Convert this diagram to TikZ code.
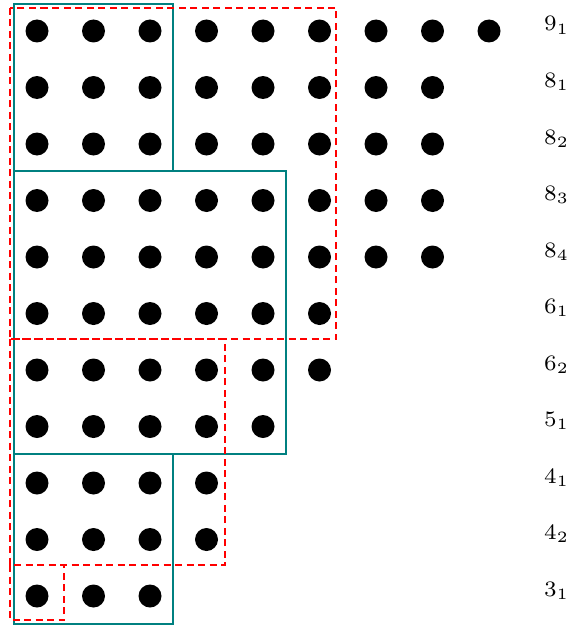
\documentclass[tikz,border=0pt]{standalone}
\usepackage{graphicx}
\usepackage{tikz}
\tikzset{
  dot/.style={circle,fill=black,draw=none,minimum size=23pt,inner sep=0pt},
  rowlab/.style={anchor=base west,inner sep=0pt},
  tealbox/.style={draw=teal,line width=1.8pt},
  redbox/.style={draw=red,line width=1.8pt,dash pattern=on 7pt off 4.5pt}
}
\newcommand{\rowtext}[1]{\scalebox{3.15}{\fontsize{7}{8}\selectfont$#1$}}
\begin{document}
\begin{tikzpicture}[x=1pt,y=-1pt]
\useasboundingbox (0,0) rectangle (572,626);
% rows: lengths and labels
\foreach \n/\lab [count=\r] in {9/9_1,8/8_1,8/8_2,8/8_3,8/8_4,6/6_1,6/6_2,5/5_1,4/4_1,4/4_2,3/3_1}{
  \foreach \c in {1,...,\n}{
    \node[dot] (d-\r-\c) at ({37+56.5*(\c-1)},{31+56.5*(\r-1)}) {};
  }
  \node[rowlab] (lab-\r) at (544,{31+56.5*(\r-1)}) {\rowtext{\lab}};
}
% teal boxes
\draw[tealbox] (14,4) rectangle (173,171);
\draw[tealbox] (14,171) rectangle (286,454);
\draw[tealbox] (14,454) rectangle (173,624);
% red dashed boxes
\draw[redbox] (10,8) rectangle (336,339);
\draw[redbox] (10,339) rectangle (225,565);
\draw[redbox] (10,565) rectangle (64,620);
\end{tikzpicture}
\end{document}
